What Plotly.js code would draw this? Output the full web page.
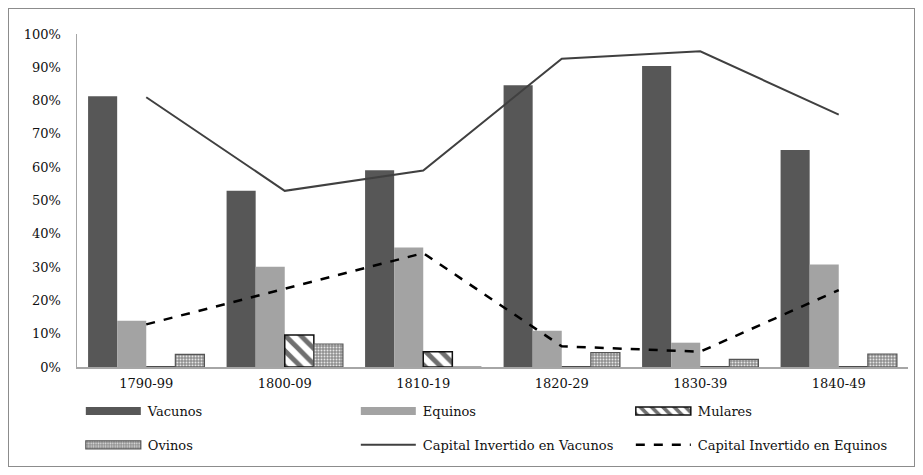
<!DOCTYPE html>
<html><head><meta charset="utf-8">
<script src="https://cdn.plot.ly/plotly-3.0.1.min.js"></script>
<style>
html,body{margin:0;padding:0;background:#fff;}
#wrap{position:relative;width:923px;height:475px;}
#chart{position:absolute;left:0;top:0;width:923px;height:475px;}
#frame{position:absolute;left:8px;top:8px;width:905px;height:457px;border:1px solid #8c8c8c;pointer-events:none;}
</style></head>
<body><div id="wrap"><div id="chart"></div><div id="frame"></div></div>
<script>
const categories = ["1790-99","1800-09","1810-19","1820-29","1830-39","1840-49"];
const vacunos  = [81.3, 52.9, 59.1, 84.6, 90.4, 65.2];
const equinos  = [13.9, 30.1, 35.9, 10.9, 7.3, 30.8];
const mulares  = [0, 9.6, 4.6, 0, 0, 0];
const ovinos   = [3.8, 6.9, 0, 4.3, 2.3, 3.9];
const capVacunos = [81.0, 52.9, 59.0, 92.6, 94.8, 75.8];
const capEquinos = [12.8, 23.5, 34.2, 6.2, 4.6, 23.1];
const yTicks = [0,10,20,30,40,50,60,70,80,90,100];

const F = "DejaVu Serif";
const traces = [
  {type:'bar', name:'Vacunos', x:categories, y:vacunos, marker:{color:'#575757'}, legend:'legend'},
  {type:'bar', name:'Equinos', x:categories, y:equinos, marker:{color:'#a3a3a3'}, legend:'legend'},
  {type:'bar', name:'Mulares', x:categories, y:mulares, legend:'legend',
   marker:{color:'#ffffff', line:{color:'#111', width:1.5},
     pattern:{shape:'\\', fgcolor:'#6f6f6f', bgcolor:'#ffffff', size:11, solidity:0.45}}},
  {type:'bar', name:'Ovinos', x:categories, y:ovinos, legend:'legend2',
   marker:{color:'#999', line:{color:'#555', width:1.2},
     pattern:{shape:'.', fgcolor:'#e6e6e6', bgcolor:'#8f8f8f', size:3, solidity:0.35}}},
  {type:'scatter', mode:'lines', name:'Capital Invertido en Vacunos', x:categories, y:capVacunos,
   line:{color:'#404040', width:2}, legend:'legend2'},
  {type:'scatter', mode:'lines', name:'Capital Invertido en Equinos', x:categories, y:capEquinos,
   line:{color:'#000', width:2.5, dash:'dash'}, legend:'legend2'}
];
const legendBase = {orientation:'h', xanchor:'left', yanchor:'middle', x:0.007, entrywidth:205,
  font:{family:F, size:13, color:'#111'}, itemwidth:55, traceorder:'normal', bgcolor:'rgba(0,0,0,0)'};
const layout = {
  width:923, height:475,
  margin:{l:77, r:15, t:34, b:108, autoexpand:false},
  paper_bgcolor:'#fff', plot_bgcolor:'#fff',
  barmode:'group', bargap:0.16, bargroupgap:0,
  font:{family:F, size:13, color:'#111'},
  hovermode:false,
  xaxis:{type:'category', showline:true, linecolor:'#a6a6a6', linewidth:1.5, ticks:'', showgrid:false,
     ticklabelstandoff:4, tickfont:{family:F, size:13, color:'#111'}},
  yaxis:{range:[0,100], tickvals:yTicks, ticktext:yTicks.map(v=>v+'%'), showline:true, linecolor:'#a6a6a6',
     linewidth:1.5, showgrid:false, zeroline:false, ticks:'', ticklabelstandoff:12,
     tickfont:{family:F, size:13, color:'#111'}},
  legend:Object.assign({}, legendBase, {y:-0.132}),
  legend2:Object.assign({}, legendBase, {y:-0.234}),
  showlegend:true
};
function textX(el){
  var g = el.closest('g.traces');
  var t = g ? g.querySelector('text') : null;
  return t ? (parseFloat(t.getAttribute('x')) || 65) : 65;
}
function widenSwatches(gd){
  gd.querySelectorAll('g.traces g.legendpoints path').forEach(function(p){
    var tx = textX(p), x0 = tx - 62, x1 = tx - 7;
    p.removeAttribute('transform');
    p.setAttribute('d', 'M'+x0+',4H'+x1+'V-4H'+x0+'Z');
  });
  gd.querySelectorAll('g.traces g.legendlines path').forEach(function(p){
    var tx = textX(p), x0 = tx - 62, x1 = tx - 7;
    p.removeAttribute('transform');
    p.setAttribute('d', 'M'+x0+',0H'+x1);
  });
}
Plotly.newPlot('chart', traces, layout, {displayModeBar:false, staticPlot:true}).then(function(gd){
  widenSwatches(gd);
});
</script></body></html>
